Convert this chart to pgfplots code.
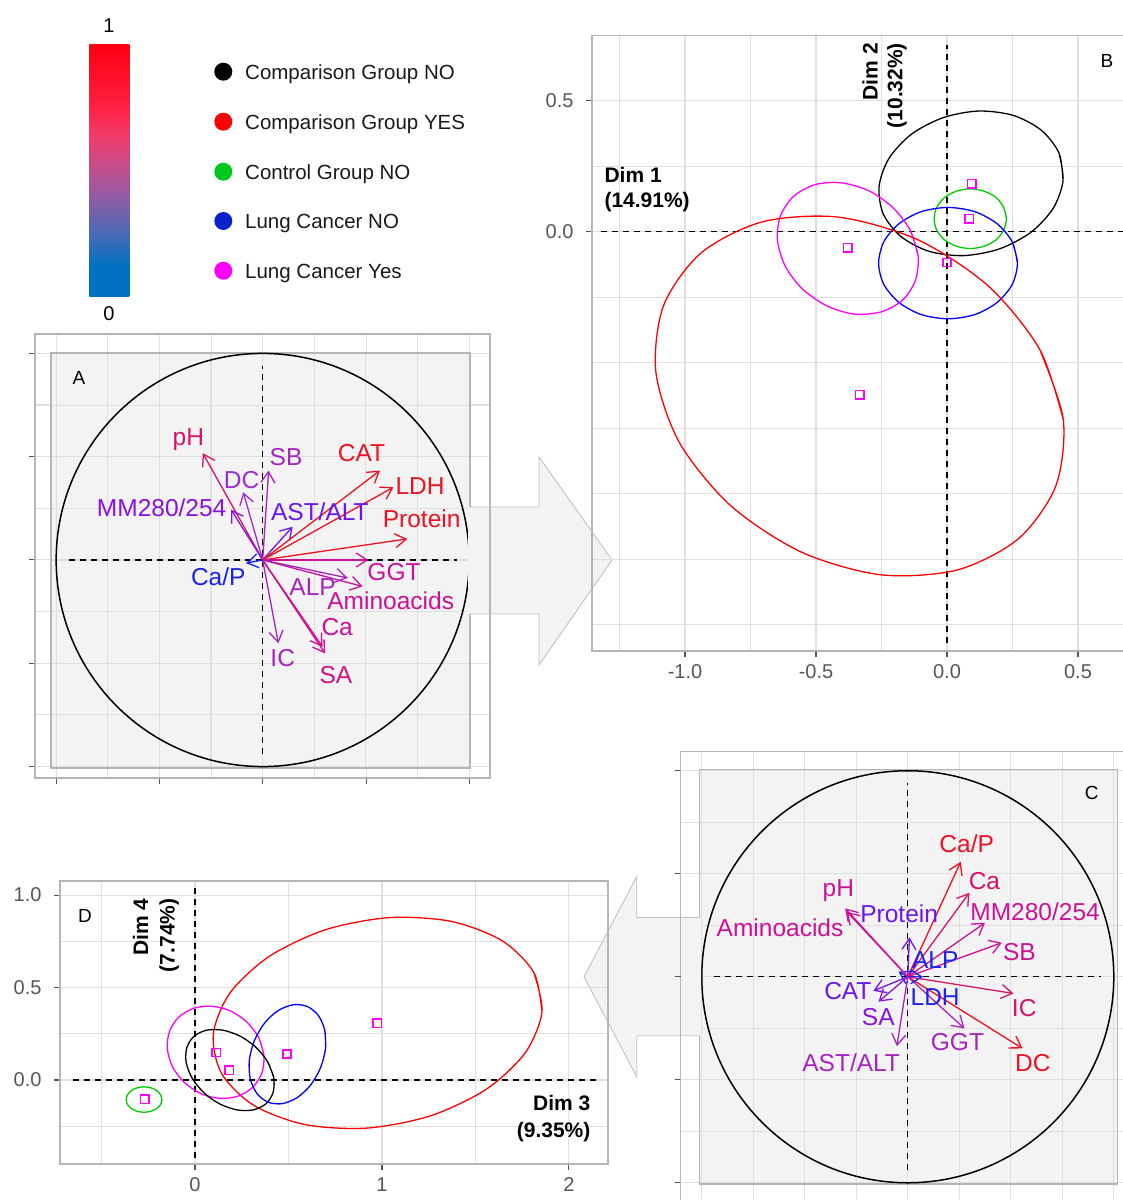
\documentclass[border=0pt]{standalone}
\usepackage{fontspec}
\setmainfont{Liberation Sans}
\usepackage{pgfplots}
\pgfplotsset{compat=1.18}
\usetikzlibrary{arrows.meta}

\definecolor{gridc}{HTML}{DFDFDF}
\definecolor{framec}{HTML}{B5B5B5}
\definecolor{tickc}{HTML}{555555}
\definecolor{panelc}{HTML}{F3F3F3}
\definecolor{arrowc}{HTML}{C2C2C2}
\definecolor{vred}{HTML}{EE1122}
\definecolor{vrose}{HTML}{D5146A}
\definecolor{vmag}{HTML}{CC1199}
\definecolor{vmagb}{HTML}{CF1182}
\definecolor{vpurp}{HTML}{A624BE}
\definecolor{vpv}{HTML}{9A2ED2}
\definecolor{vviol}{HTML}{8A12DE}
\definecolor{vindi}{HTML}{6C16EE}
\definecolor{vblue}{HTML}{1A22EE}
\definecolor{gred}{HTML}{FF0000}
\definecolor{ggreen}{HTML}{00CC00}
\definecolor{gblue}{HTML}{0000FF}
\definecolor{gmag}{HTML}{FF00FF}
\definecolor{lgreen}{HTML}{00C81E}
\definecolor{lblue}{HTML}{0A22CC}
\definecolor{cbA}{HTML}{0070C0}
\definecolor{cbB}{HTML}{4A6AB6}
\definecolor{cbC}{HTML}{8A5DA6}
\definecolor{cbD}{HTML}{C44E8C}
\definecolor{cbE}{HTML}{F23A6A}
\definecolor{cbF}{HTML}{FF1F40}
\definecolor{cbG}{HTML}{FF0010}
\pgfdeclareverticalshading{cbar}{100bp}{color(0bp)=(cbA); color(31bp)=(cbA); color(37.5bp)=(cbB); color(44bp)=(cbC); color(50.5bp)=(cbD); color(57bp)=(cbE); color(63bp)=(cbF); color(75bp)=(cbG); color(100bp)=(cbG)}

\newcommand{\lab}{\fontsize{24.5}{28}\selectfont}
\newcommand{\dimf}{\bfseries\fontsize{21}{24}\selectfont}
\newcommand{\letf}{\fontsize{19}{22}\selectfont}
\newcommand{\varr}[3]{\addplot[#1, line width=1.3pt, -{Straight Barb[length=11pt,width=14pt]}] coordinates {(0,0) (#2,#3)};}
\newcommand{\vlab}[4]{\node[text=#1, font=\lab, inner sep=0pt] at (axis cs:#2,#3) {#4};}

\pgfplotsset{
  panel/.style={
    scale only axis, clip=false,
    axis line style={framec, line width=1.3pt},
    grid=both,
    major grid style={gridc, line width=1.1pt},
    minor grid style={gridc, line width=1.1pt},
    tick pos=left, tick align=outside,
    major tick length=6pt, minor tick length=0pt,
    tick style={tickc, line width=1.1pt},
    ticklabel style={font=\fontsize{20}{22}\selectfont, text=tickc},
    xticklabel style={yshift=-4pt},
    yticklabel style={xshift=-9pt},
  },
  inner/.style={
    scale only axis, clip=false,
    axis background/.style={fill=panelc},
    axis line style={framec, line width=1.3pt},
    grid=major, major grid style={gridc, line width=1.1pt},
    major tick length=0pt, minor tick length=0pt,
    xticklabels={}, yticklabels={},
    xtick={-1,-0.75,-0.5,-0.25,0,0.25,0.5,0.75,1},
    ytick={-1,-0.75,-0.5,-0.25,0,0.25,0.5,0.75,1},
  },
  dashax/.style={black, line width=1.3pt, dash pattern=on 6pt off 5pt},
  ell/.style={line width=1.3pt, smooth},
}
\newcommand{\means}[1]{\addplot[gmag, only marks, mark=square, mark size=4.2pt, mark options={draw=gmag, line width=1.5pt}] coordinates {#1};}

\begin{document}
\begin{tikzpicture}
\useasboundingbox (0,0) rectangle (1123pt,-1200pt);

% ---------- colour bar ----------
\shade[shading=cbar] (89.3pt,-44pt) rectangle (129.3pt,-296.7pt);
\node[font=\fontsize{20}{22}\selectfont] at (109pt,-26pt) {1};
\node[font=\fontsize{20}{22}\selectfont] at (109pt,-314pt) {0};

% ---------- legend ----------
\fill[black]  (223.3pt,-71.7pt)  circle[radius=9pt];
\fill[gred]   (223.3pt,-121.7pt) circle[radius=9pt];
\fill[lgreen] (223.3pt,-171.7pt) circle[radius=9pt];
\fill[lblue]  (223.3pt,-221pt)   circle[radius=9pt];
\fill[gmag]   (223.3pt,-270.7pt) circle[radius=9pt];
\begin{scope}[every node/.style={anchor=base west, inner sep=0pt, font=\fontsize{20.5}{24}\selectfont, text=black!90}]
\node at (245pt,-79pt)  {Comparison Group NO};
\node at (245pt,-129pt) {Comparison Group YES};
\node at (245pt,-179pt) {Control Group NO};
\node at (245pt,-228.3pt) {Lung Cancer NO};
\node at (245pt,-278pt) {Lung Cancer Yes};
\end{scope}

% ---------- panel A ----------
\begin{axis}[panel, at={(35pt,-778pt)}, anchor=south west,
  width=455pt, height=444pt,
  xmin=-1.103, xmax=1.100, ymin=-1.056, ymax=1.094,
  xtick={-1,-0.5,0,0.5,1}, ytick={-1,-0.5,0,0.5,1},
  minor xtick={-0.75,-0.25,0.25,0.75}, minor ytick={-0.75,-0.25,0.25,0.75},
  xticklabels={}, yticklabels={}]
\addplot[draw=none] coordinates {(0,0)};
\end{axis}

\begin{axis}[inner, at={(51pt,-768pt)}, anchor=south west,
  width=419pt, height=415pt,
  xmin=-1.025, xmax=1.004, ymin=-1.007, ymax=1.002]
\addplot[dashax] coordinates {(-0.94,0) (0.94,0)};
\addplot[dashax] coordinates {(0,-0.94) (0,0.94)};
\draw[black, line width=1.5pt] (axis cs:0,0) circle[radius=1];
\varr{vrose}{-0.29}{0.517}
\varr{vpv}{-0.094}{0.328}
\varr{vpurp}{0.029}{0.433}
\varr{vviol}{-0.153}{0.244}
\varr{vindi}{0.145}{0.161}
\varr{vred}{0.568}{0.433}
\varr{vred}{0.633}{0.352}
\varr{vred}{0.70}{0.102}
\varr{vmag}{0.512}{0.0}
\varr{vmag}{0.484}{-0.128}
\varr{vpurp}{0.412}{-0.087}
\varr{vmag}{0.29}{-0.42}
\varr{vmagb}{0.302}{-0.452}
\varr{vpurp}{0.076}{-0.403}
\varr{vblue}{-0.081}{-0.015}
\vlab{vrose}{-0.360}{0.581}{pH}
\vlab{vpv}{-0.102}{0.387}{DC}
\vlab{vpurp}{0.113}{0.500}{SB}
\vlab{vviol}{-0.489}{0.252}{MM280/254}
\vlab{vindi}{0.277}{0.234}{AST/ALT}
\vlab{vred}{0.479}{0.520}{CAT}
\vlab{vred}{0.762}{0.358}{LDH}
\vlab{vred}{0.770}{0.199}{Protein}
\vlab{vmag}{0.636}{-0.058}{GGT}
\vlab{vmag}{0.620}{-0.197}{Aminoacids}
\vlab{vpurp}{0.242}{-0.132}{ALP}
\vlab{vmag}{0.361}{-0.326}{Ca}
\vlab{vmagb}{0.355}{-0.557}{SA}
\vlab{vpurp}{0.097}{-0.476}{IC}
\vlab{vblue}{-0.215}{-0.081}{Ca/P}
\node[font=\letf] at (axis cs:-0.890,0.881) {A};
\end{axis}

% arrow A -> B
\fill[panelc] (468pt,-507pt) -- (539pt,-507pt) -- (539pt,-457pt) -- (612pt,-560pt) -- (539pt,-665pt) -- (539pt,-614pt) -- (468pt,-614pt) -- cycle;
\draw[arrowc, line width=0.9pt] (470pt,-507pt) -- (539pt,-507pt) -- (539pt,-457pt) -- (612pt,-560pt) -- (539pt,-665pt) -- (539pt,-614pt) -- (470pt,-614pt);
\draw[framec, line width=1.3pt] (490pt,-507pt) -- (490pt,-614pt);

% ---------- panel B ----------
\begin{axis}[panel, at={(592pt,-651pt)}, anchor=south west,
  width=543.6pt, height=615.7pt,
  xmin=-1.355, xmax=0.72, ymin=-1.6, ymax=0.75,
  xtick={-1,-0.5,0,0.5}, xticklabels={-1.0,-0.5,0.0,0.5},
  minor xtick={-1.25,-0.75,-0.25,0.25},
  ytick={0,0.5}, yticklabels={0.0,0.5},
  minor ytick={-1.5,-1.25,-1,-0.75,-0.5,-0.25,0.25}]
\addplot[dashax] coordinates {(-1.322,0) (0.72,0)};
\addplot[dashax] coordinates {(0,-1.57) (0,0.713)};
\addplot[ell, black] coordinates {(0.443,0.195) (0.428,0.300) (0.361,0.387) (0.254,0.444) (0.122,0.461) (-0.014,0.436) (-0.135,0.373) (-0.221,0.281) (-0.259,0.175) (-0.244,0.070) (-0.177,-0.017) (-0.070,-0.074) (0.062,-0.091) (0.198,-0.066) (0.319,-0.003) (0.405,0.089) (0.443,0.195) (0.428,0.300)};
\addplot[ell, ggreen] coordinates {(0.227,0.050) (0.216,0.094) (0.187,0.131) (0.142,0.155) (0.089,0.164) (0.036,0.155) (-0.009,0.131) (-0.039,0.094) (-0.049,0.050) (-0.039,0.006) (-0.009,-0.031) (0.036,-0.055) (0.089,-0.064) (0.142,-0.055) (0.187,-0.031) (0.216,0.006) (0.227,0.050) (0.216,0.094)};
\addplot[ell, gblue] coordinates {(0.269,-0.120) (0.249,-0.038) (0.191,0.031) (0.106,0.077) (0.004,0.093) (-0.098,0.077) (-0.183,0.031) (-0.241,-0.038) (-0.261,-0.120) (-0.241,-0.201) (-0.183,-0.270) (-0.098,-0.316) (0.004,-0.332) (0.106,-0.316) (0.191,-0.270) (0.249,-0.201) (0.269,-0.120) (0.249,-0.038)};
\addplot[ell, gmag] coordinates {(-0.110,-0.093) (-0.140,0.005) (-0.207,0.093) (-0.299,0.157) (-0.404,0.187) (-0.504,0.180) (-0.586,0.135) (-0.636,0.060) (-0.647,-0.033) (-0.617,-0.132) (-0.551,-0.219) (-0.458,-0.283) (-0.354,-0.314) (-0.253,-0.306) (-0.171,-0.262) (-0.121,-0.187) (-0.110,-0.093) (-0.140,0.005)};
\addplot[ell, gred] coordinates {(0.444,-0.717) (0.354,-0.449) (0.159,-0.208) (-0.110,-0.031) (-0.414,0.056) (-0.705,0.038) (-0.939,-0.081) (-1.082,-0.282) (-1.111,-0.537) (-1.021,-0.805) (-0.826,-1.045) (-0.557,-1.222) (-0.254,-1.309) (0.038,-1.291) (0.272,-1.172) (0.415,-0.971) (0.444,-0.717) (0.354,-0.449)};
\means{(0.094,0.184) (0.085,0.050) (0.0,-0.117) (-0.379,-0.061) (-0.333,-0.622)}
\node[font=\dimf, anchor=west, inner sep=0pt] at (axis cs:-1.308,0.216) {Dim 1};
\node[font=\dimf, anchor=west, inner sep=0pt] at (axis cs:-1.308,0.112) {(14.91\%)};
\node[font=\dimf, rotate=90, anchor=east, inner sep=0pt] at (axis cs:-0.294,0.721) {Dim 2};
\node[font=\dimf, rotate=90, anchor=east, inner sep=0pt] at (axis cs:-0.191,0.721) {(10.32\%)};
\node[font=\letf] at (axis cs:0.611,0.653) {B};
\end{axis}

% ---------- panel C ----------
\begin{axis}[panel, at={(680.7pt,-1203.3pt)}, anchor=south west,
  width=453.6pt, height=451.6pt,
  xmin=-1.102, xmax=1.1, ymin=-1.1, ymax=1.092,
  xtick={-1,-0.5,0,0.5,1}, ytick={-1,-0.5,0,0.5,1},
  minor xtick={-0.75,-0.25,0.25,0.75}, minor ytick={-0.75,-0.25,0.25,0.75},
  xticklabels={}, yticklabels={}]
\addplot[draw=none] coordinates {(0,0)};
\end{axis}

\begin{axis}[inner, at={(699.3pt,-1184pt)}, anchor=south west,
  width=418pt, height=414.7pt,
  xmin=-1.012, xmax=1.017, ymin=-1.006, ymax=1.007]
\addplot[dashax] coordinates {(-0.94,0) (0.94,0)};
\addplot[dashax] coordinates {(0,-0.94) (0,0.94)};
\draw[black, line width=1.5pt] (axis cs:0,0) circle[radius=1];
\varr{vred}{0.257}{0.558}
\varr{vrose}{0.299}{0.408}
\varr{vmag}{0.375}{0.262}
\varr{vmag}{0.456}{0.165}
\varr{vrose}{0.513}{-0.081}
\varr{vred}{0.557}{-0.348}
\varr{vpurp}{0.275}{-0.251}
\varr{vblue}{0.073}{0.0}
\varr{vblue}{-0.045}{0.025}
\varr{vindi}{0.008}{0.191}
\varr{vindi}{-0.167}{-0.068}
\varr{vviol}{-0.142}{-0.121}
\varr{vpurp}{-0.053}{-0.337}
\varr{vmag}{-0.304}{0.332}
\varr{vmag}{-0.296}{0.316}
\vlab{vred}{0.286}{0.644}{Ca/P}
\vlab{vrose}{0.372}{0.465}{Ca}
\vlab{vmag}{0.618}{0.316}{MM280/254}
\vlab{vmag}{0.542}{0.118}{SB}
\vlab{vrose}{0.565}{-0.153}{IC}
\vlab{vred}{0.607}{-0.417}{DC}
\vlab{vpurp}{0.241}{-0.318}{GGT}
\vlab{vblue}{0.133}{-0.097}{LDH}
\vlab{vblue}{0.133}{0.081}{ALP}
\vlab{vindi}{-0.042}{0.308}{Protein}
\vlab{vindi}{-0.291}{-0.068}{CAT}
\vlab{vviol}{-0.143}{-0.194}{SA}
\vlab{vpurp}{-0.275}{-0.417}{AST/ALT}
\vlab{vmag}{-0.337}{0.417}{pH}
\vlab{vmag}{-0.620}{0.240}{Aminoacids}
\node[font=\letf] at (axis cs:0.893,0.890) {C};
\end{axis}

% arrow C -> D
\fill[panelc] (701pt,-917.3pt) -- (636.7pt,-917.3pt) -- (636.7pt,-876.7pt) -- (584pt,-976.7pt) -- (636.7pt,-1076.7pt) -- (636.7pt,-1035.7pt) -- (701pt,-1035.7pt) -- cycle;
\draw[arrowc, line width=0.9pt] (699.3pt,-917.3pt) -- (636.7pt,-917.3pt) -- (636.7pt,-876.7pt) -- (584pt,-976.7pt) -- (636.7pt,-1076.7pt) -- (636.7pt,-1035.7pt) -- (699.3pt,-1035.7pt);
\draw[framec, line width=1.3pt] (680.7pt,-917.3pt) -- (680.7pt,-1035.7pt);
\draw[tickc, line width=1.1pt] (674.7pt,-976.7pt) -- (680.7pt,-976.7pt);

% ---------- panel D ----------
\begin{axis}[panel, at={(60pt,-1164pt)}, anchor=south west,
  width=548pt, height=283pt,
  xmin=-0.722, xmax=2.209, ymin=-0.454, ymax=1.076,
  xtick={0,1,2}, xticklabels={0,1,2}, minor xtick={-0.5,0.5,1.5},
  ytick={0,0.5,1}, yticklabels={0.0,0.5,1.0}, minor ytick={-0.25,0.25,0.75}]
\addplot[dashax] coordinates {(-0.652,0) (2.16,0)};
\addplot[dashax] coordinates {(0,-0.423) (0,1.036)};
\addplot[ell, gred] coordinates {(1.856,0.369) (1.812,0.582) (1.641,0.754) (1.369,0.858) (1.037,0.878) (0.696,0.812) (0.398,0.669) (0.188,0.472) (0.098,0.249) (0.142,0.036) (0.313,-0.136) (0.585,-0.240) (0.917,-0.260) (1.258,-0.194) (1.556,-0.051) (1.766,0.147) (1.856,0.369) (1.812,0.582)};
\addplot[ell, gmag] coordinates {(0.369,0.130) (0.342,0.227) (0.279,0.312) (0.191,0.373) (0.091,0.399) (-0.007,0.388) (-0.087,0.340) (-0.136,0.264) (-0.148,0.170) (-0.121,0.073) (-0.058,-0.012) (0.030,-0.073) (0.131,-0.099) (0.228,-0.088) (0.308,-0.040) (0.357,0.036) (0.369,0.130) (0.342,0.227)};
\addplot[ell, black] coordinates {(0.421,0.014) (0.388,0.100) (0.324,0.179) (0.240,0.238) (0.147,0.270) (0.060,0.269) (-0.007,0.235) (-0.044,0.174) (-0.047,0.094) (-0.014,0.008) (0.050,-0.071) (0.134,-0.130) (0.227,-0.162) (0.314,-0.161) (0.381,-0.127) (0.418,-0.066) (0.421,0.014) (0.388,0.100)};
\addplot[ell, gblue] coordinates {(0.698,0.170) (0.694,0.270) (0.659,0.350) (0.600,0.398) (0.525,0.407) (0.444,0.375) (0.372,0.308) (0.318,0.214) (0.291,0.110) (0.295,0.009) (0.330,-0.071) (0.389,-0.119) (0.465,-0.128) (0.545,-0.096) (0.617,-0.029) (0.671,0.065) (0.698,0.170) (0.694,0.270)};
\addplot[ell, ggreen] coordinates {(-0.177,-0.106) (-0.184,-0.080) (-0.205,-0.057) (-0.236,-0.042) (-0.273,-0.037) (-0.309,-0.042) (-0.340,-0.057) (-0.361,-0.080) (-0.368,-0.106) (-0.361,-0.132) (-0.340,-0.154) (-0.309,-0.169) (-0.273,-0.174) (-0.236,-0.169) (-0.205,-0.154) (-0.184,-0.132) (-0.177,-0.106) (-0.184,-0.080)};
\means{(-0.269,-0.103) (0.114,0.149) (0.184,0.052) (0.492,0.141) (0.974,0.306)}
\node[font=\dimf, rotate=90, anchor=east, inner sep=0pt] at (axis cs:-0.291,0.982) {Dim 4};
\node[font=\dimf, rotate=90, anchor=east, inner sep=0pt] at (axis cs:-0.138,0.982) {(7.74\%)};
\node[font=\dimf, anchor=east, inner sep=0pt] at (axis cs:2.116,-0.126) {Dim 3};
\node[font=\dimf, anchor=east, inner sep=0pt] at (axis cs:2.116,-0.281) {(9.35\%)};
\node[font=\letf] at (axis cs:-0.588,0.886) {D};
\end{axis}
\end{tikzpicture}
\end{document}
